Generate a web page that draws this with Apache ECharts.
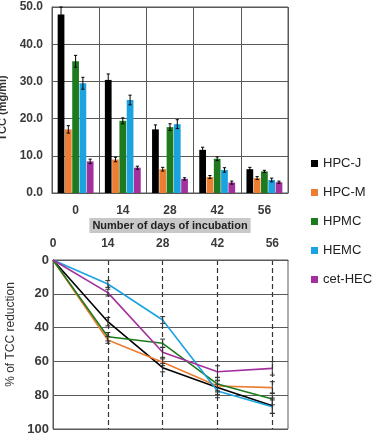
<!DOCTYPE html>
<html><head><meta charset="utf-8">
<script src="https://cdn.jsdelivr.net/npm/echarts@6/dist/echarts.min.js"></script>
<style>html,body{margin:0;padding:0;background:#fff}#c{width:373px;height:435px}</style>
</head><body><div id="c"></div>
<script>
const seriesNames = ['HPC-J','HPC-M','HPMC','HEMC','cet-HEC'];
const colors = ['#000000','#ED7D31','#1E7A1E','#1BA3E0','#A3309D'];
const days = ['0','14','28','42','56'];
const dayValues = [0,14,28,42,56];
// TCC (mg/ml) per series, per day
const tcc = [
  [48.0, 30.4, 17.1, 11.6, 6.4],
  [17.1, 9.0, 6.4, 4.3, 4.0],
  [35.4, 19.4, 17.7, 9.2, 5.8],
  [29.5, 25.0, 18.5, 6.2, 3.5],
  [8.5, 6.8, 3.8, 2.8, 2.9]
];
const tccErr = [
  [2.0, 1.6, 1.2, 0.7, 0.5],
  [1.0, 0.6, 0.5, 0.4, 0.4],
  [1.6, 0.8, 0.9, 0.5, 0.3],
  [1.6, 1.3, 1.2, 0.6, 0.5],
  [0.6, 0.4, 0.3, 0.4, 0.3]
];
// % of TCC reduction per series, per day
const reduction = [
  [0, 36.5, 63.7, 75.5, 86.2],
  [0, 47.3, 60.5, 74.6, 75.5],
  [0, 45.4, 49.3, 73.4, 82.2],
  [0, 14.2, 35.5, 77.5, 86.8],
  [0, 19.3, 54.6, 66.1, 64.1]
];
const reductionErr = [
  [0, 2.5, 2.5, 4.0, 4.5],
  [0, 2.0, 2.0, 3.5, 3.5],
  [0, 2.5, 2.5, 4.0, 3.5],
  [0, 2.0, 2.0, 4.0, 4.0],
  [0, 2.0, 3.0, 3.5, 4.0]
];

const FONT = 'Liberation Sans';
const gridColor = '#595959';
const catGap = 0.24, barGapR = 0.08, nBars = seriesNames.length;

function barErrRender(idx) {
  return function (params, api) {
    const ci = api.value(0), v = api.value(1), e = api.value(2);
    const band = api.size([1, 0])[0];
    const used = band * (1 - catGap);
    const w = used / (nBars + (nBars - 1) * barGapR);
    const off = -used / 2 + w / 2 + idx * w * (1 + barGapR);
    const p1 = api.coord([ci, v + e]);
    const p2 = api.coord([ci, v - e]);
    const x = p1[0] + off;
    const cap = 1.6;
    const st = { stroke: '#000', lineWidth: 1 };
    return { type: 'group', children: [
      { type: 'line', shape: { x1: x, y1: p1[1], x2: x, y2: p2[1] }, style: st },
      { type: 'line', shape: { x1: x - cap, y1: p1[1], x2: x + cap, y2: p1[1] }, style: st },
      { type: 'line', shape: { x1: x - cap, y1: p2[1], x2: x + cap, y2: p2[1] }, style: st }
    ]};
  };
}
function lineErrRender(params, api) {
  const d = api.value(0), v = api.value(1), e = api.value(2);
  if (!e) return null;
  const p1 = api.coord([d, v - e]);
  const p2 = api.coord([d, v + e]);
  const cap = 2.5;
  const st = { stroke: '#333', lineWidth: 1 };
  return { type: 'group', children: [
    { type: 'line', shape: { x1: p1[0], y1: p1[1], x2: p2[0], y2: p2[1] }, style: st },
    { type: 'line', shape: { x1: p1[0] - cap, y1: p1[1], x2: p1[0] + cap, y2: p1[1] }, style: st },
    { type: 'line', shape: { x1: p2[0] - cap, y1: p2[1], x2: p2[0] + cap, y2: p2[1] }, style: st }
  ]};
}

const series = [];
seriesNames.forEach((n, i) => {
  series.push({ name: n, type: 'bar', xAxisIndex: 0, yAxisIndex: 0, data: tcc[i],
    itemStyle: { color: colors[i] }, barCategoryGap: (catGap * 100) + '%', barGap: (barGapR * 100) + '%',
    animation: false });
});
seriesNames.forEach((n, i) => {
  series.push({ name: n + '_err', type: 'custom', xAxisIndex: 0, yAxisIndex: 0,
    data: tcc[i].map((v, j) => [j, v, tccErr[i][j]]), renderItem: barErrRender(i), z: 5, animation: false });
});
seriesNames.forEach((n, i) => {
  series.push({ name: n, type: 'line', xAxisIndex: 1, yAxisIndex: 1,
    data: reduction[i].map((v, j) => [dayValues[j], v]), showSymbol: false, symbol: 'none',
    lineStyle: { color: colors[i], width: 1.6 }, itemStyle: { color: colors[i] }, animation: false, z: 3 });
});
seriesNames.forEach((n, i) => {
  series.push({ name: n + '_lerr', type: 'custom', xAxisIndex: 1, yAxisIndex: 1,
    data: reduction[i].map((v, j) => [dayValues[j], v, reductionErr[i][j]]), renderItem: lineErrRender, z: 4, animation: false });
});

const tickLabel = { color: '#3a3a3a', fontWeight: 'bold', fontSize: 12, fontFamily: FONT };

const option = {
  backgroundColor: '#fff',
  animation: false,
  legend: {
    data: seriesNames.map(n => ({ name: n, icon: 'rect' })),
    orient: 'vertical', left: 306, top: 152, itemWidth: 7, itemHeight: 7, itemGap: 16,
    textStyle: { fontFamily: FONT, fontSize: 13, color: '#222' }
  },
  grid: [
    { left: 52, top: 7, width: 236, height: 186, show: true, borderColor: gridColor, borderWidth: 1, containLabel: false, outerBoundsMode: 'none' },
    { left: 53, top: 260, width: 235, height: 169, show: true, borderColor: gridColor, borderWidth: 1, containLabel: false, outerBoundsMode: 'none' }
  ],
  xAxis: [
    { type: 'category', gridIndex: 0, data: days,
      axisLine: { lineStyle: { color: gridColor } }, axisTick: { show: false },
      splitLine: { show: true, lineStyle: { color: gridColor, width: 1 } },
      axisLabel: Object.assign({ margin: 12 }, tickLabel),
      name: 'Number of days of incubation', nameLocation: 'middle', nameGap: 25,
      nameTextStyle: { fontFamily: FONT, fontWeight: 'bold', fontSize: 11, color: '#222',
        backgroundColor: '#c8c8c8', padding: [2, 3, 2, 3] } },
    { type: 'value', gridIndex: 1, position: 'top', min: 0, max: 60, interval: 14,
      axisLine: { show: true, lineStyle: { color: gridColor } }, axisTick: { show: false },
      splitLine: { show: true, showMinLine: false, showMaxLine: false, lineStyle: { color: '#333', type: [5, 3], width: 1.2 } },
      axisLabel: Object.assign({ margin: 10, showMaxLabel: false }, tickLabel) }
  ],
  yAxis: [
    { type: 'value', gridIndex: 0, min: 0, max: 50, interval: 10,
      axisLine: { show: true, lineStyle: { color: gridColor } }, axisTick: { show: false },
      splitLine: { show: true, lineStyle: { color: gridColor } },
      axisLabel: Object.assign({ margin: 9, formatter: v => v.toFixed(1) }, tickLabel),
      name: 'TCC (mg/ml)', nameLocation: 'middle', nameGap: 40, nameRotate: 90,
      nameTextStyle: { fontFamily: FONT, fontWeight: 'bold', fontSize: 11, color: '#333', padding: [0, 16, 0, 0] } },
    { type: 'value', gridIndex: 1, min: 0, max: 100, interval: 20, inverse: true,
      axisLine: { show: true, lineStyle: { color: gridColor } }, axisTick: { show: false },
      splitLine: { show: true, lineStyle: { color: gridColor } },
      axisLabel: Object.assign({ margin: 4 }, tickLabel, { fontSize: 13 }),
      name: '% of TCC reduction', nameLocation: 'middle', nameGap: 33, nameRotate: 90,
      nameTextStyle: { fontFamily: FONT, fontSize: 12, color: '#333', padding: [0, 0, 0, 20] } }
  ],
  series: series
};
const chart = echarts.init(document.getElementById('c'), null, { renderer: 'canvas' });
chart.setOption(option);
</script></body></html>
